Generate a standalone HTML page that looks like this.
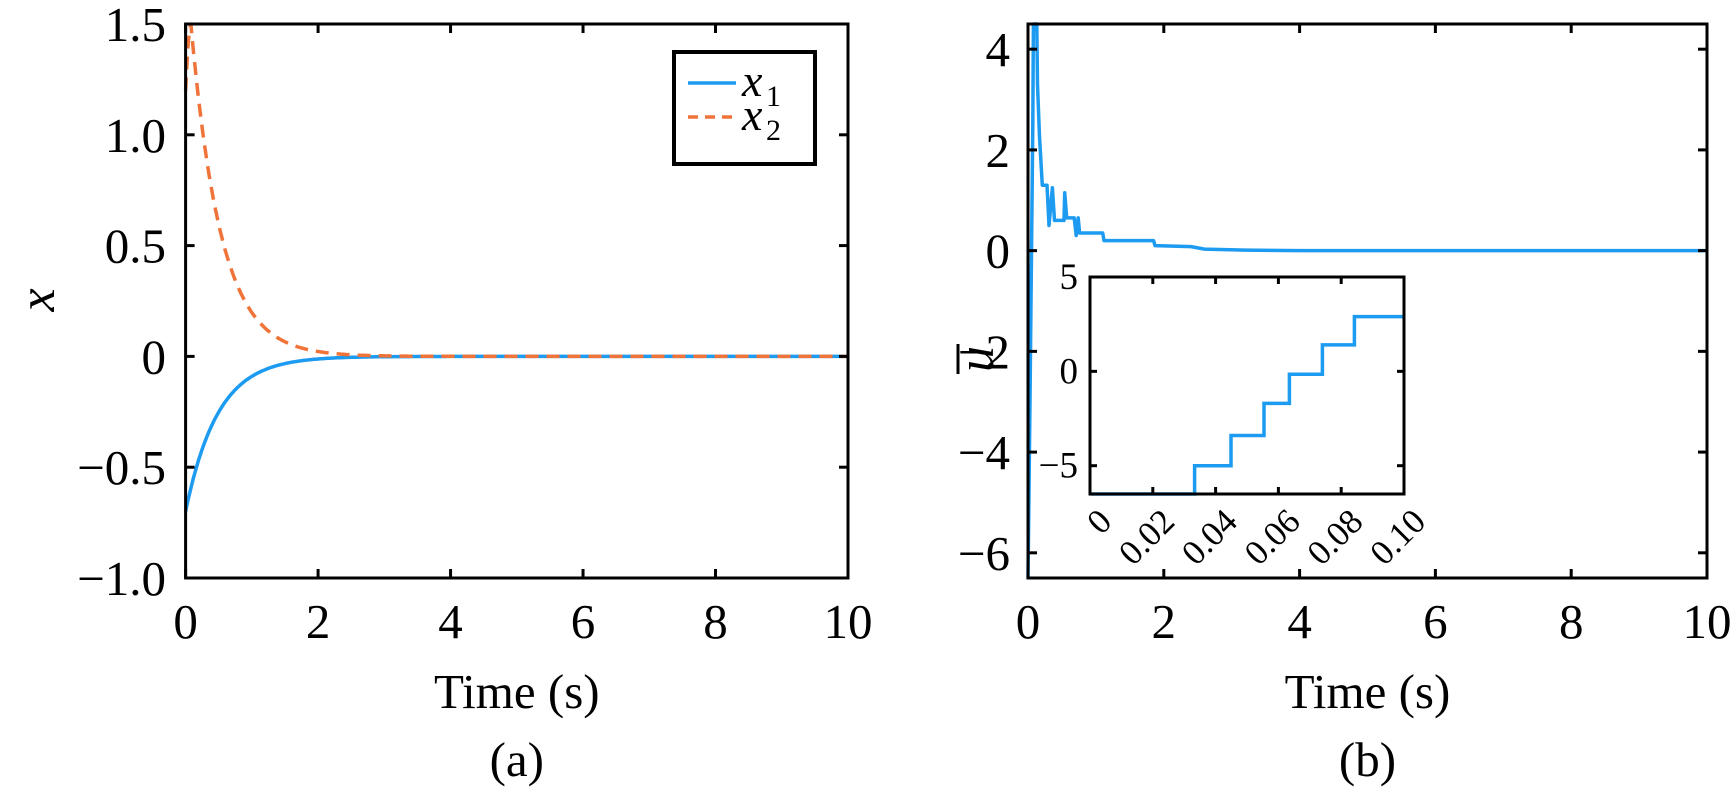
<!DOCTYPE html>
<html><head><meta charset="utf-8"><style>
html,body{margin:0;padding:0;background:#fff;}
svg{display:block;}
text{font-family:"Liberation Serif",serif;fill:#000;}
</style></head><body>
<svg id="s" width="1732" height="792" viewBox="0 0 1732 792" xmlns="http://www.w3.org/2000/svg">
<g id="g"></g>
</svg>
<script>
const NS="http://www.w3.org/2000/svg";
const g=document.getElementById('g');
function el(t,a,txt){const e=document.createElementNS(NS,t);for(const k in a)e.setAttribute(k,a[k]);if(txt!==undefined)e.textContent=txt;g.appendChild(e);return e;}
const BLUE="#1d9bf0",ORANGE="#f0743a";
const L={x0:185.6,x1:848,y0:24,y1:578,xmin:0,xmax:10,ymin:-1,ymax:1.5};
const R={x0:1028,x1:1707,y0:24,y1:578,xmin:0,xmax:10,ymin:-6.5,ymax:4.5};
const I={x0:1090,x1:1404,y0:277,y1:494,xmin:0,xmax:0.1,ymin:-6.5,ymax:5};
function X(P,v){return P.x0+(v-P.xmin)/(P.xmax-P.xmin)*(P.x1-P.x0);}
function Y(P,v){return P.y1-(v-P.ymin)/(P.ymax-P.ymin)*(P.y1-P.y0);}
function path(P,pts,attrs){let d=pts.map((p,i)=>(i?'L':'M')+X(P,p[0]).toFixed(1)+' '+Y(P,p[1]).toFixed(1)).join('');const a=Object.assign({d:d,fill:'none','stroke-width':3.5,'stroke-linejoin':'round'},attrs);return el('path',a);}
let p1=[],p2=[];
for(let t=0;t<=10.0001;t+=0.02){p1.push([t,-0.7*Math.exp(-2.05*t)]);
 let v= t<0.08 ? 1.2+0.3*Math.sin(t/0.08*Math.PI/2) : 1.5*Math.exp(-2.2*(t-0.08));p2.push([t,v]);}
path(L,p1,{stroke:BLUE});
path(L,p2,{stroke:ORANGE,'stroke-dasharray':'13 8'});
let u=[[0,-6.5],[0.03,-3],[0.07,2.5],[0.08,4.5],[0.13,4.5],[0.14,3.3],[0.17,2.26],[0.21,1.3],[0.28,1.3],[0.31,0.5],[0.36,1.25],[0.39,0.6],[0.53,0.6],[0.54,1.15],[0.57,0.65],[0.68,0.65],[0.71,0.3],[0.74,0.65],[0.76,0.35],[1.1,0.35],[1.12,0.2],[1.85,0.2],[1.87,0.1],[2.4,0.08],[2.6,0.03],[3.2,0.01],[4,0],[10,0]];
path(R,u,{stroke:BLUE});
el('rect',{x:I.x0,y:I.y0,width:I.x1-I.x0,height:I.y1-I.y0,fill:'#fff'});
let st=[[0,-6.5],[0.0333,-6.5],[0.0333,-5],[0.0449,-5],[0.0449,-3.4],[0.0554,-3.4],[0.0554,-1.7],[0.0635,-1.7],[0.0635,-0.15],[0.074,-0.15],[0.074,1.4],[0.0842,1.4],[0.0842,2.9],[0.1,2.9]];
path(I,st,{stroke:BLUE,'stroke-linejoin':'miter'});
function box(P,xt,yt,tl,sw){
 el('rect',{x:P.x0,y:P.y0,width:P.x1-P.x0,height:P.y1-P.y0,fill:'none',stroke:'#000','stroke-width':sw});
 xt.forEach(v=>{const x=X(P,v);el('line',{x1:x,x2:x,y1:P.y1,y2:P.y1-tl,stroke:'#000','stroke-width':sw});el('line',{x1:x,x2:x,y1:P.y0,y2:P.y0+tl,stroke:'#000','stroke-width':sw});});
 yt.forEach(v=>{const y=Y(P,v);el('line',{x1:P.x0,x2:P.x0+tl,y1:y,y2:y,stroke:'#000','stroke-width':sw});el('line',{x1:P.x1,x2:P.x1-tl,y1:y,y2:y,stroke:'#000','stroke-width':sw});});
}
box(L,[0,2,4,6,8,10],[-1,-0.5,0,0.5,1,1.5],9,3);
box(R,[0,2,4,6,8,10],[-6,-4,-2,0,2,4],9,3);
box(I,[0,0.02,0.04,0.06,0.08,0.1],[-5,0,5],7,3);
const M="\u2212";
[[1.5,"1.5"],[1,"1.0"],[0.5,"0.5"],[0,"0"],[-0.5,M+"0.5"],[-1,M+"1.0"]].forEach(([v,s])=>el('text',{x:166,y:Y(L,v)+17,'font-size':49,'text-anchor':'end'},s));
[0,2,4,6,8,10].forEach(v=>{el('text',{x:X(L,v),y:638,'font-size':49,'text-anchor':'middle'},String(v));el('text',{x:X(R,v),y:638,'font-size':49,'text-anchor':'middle'},String(v));});
[4,2,0,-2,-4,-6].forEach(v=>el('text',{x:1010,y:Y(R,v)+17,'font-size':49,'text-anchor':'end'},(v<0?M:"")+Math.abs(v)));
[5,0,-5].forEach(v=>el('text',{x:1078,y:Y(I,v)+12,'font-size':37,'text-anchor':'end'},(v<0?M:"")+Math.abs(v)));
["0","0.02","0.04","0.06","0.08","0.10"].forEach((s,i)=>{const x=X(I,i*0.02)+8,y=I.y1+14;el('text',{x:x,y:y,'font-size':35,'text-anchor':'end',transform:`rotate(-45 ${x} ${y}) translate(0 22)`},s);});
el('text',{x:X(L,5),y:708,'font-size':49,'text-anchor':'middle'},"Time (s)");
el('text',{x:X(R,5),y:708,'font-size':49,'text-anchor':'middle'},"Time (s)");
el('text',{x:X(L,5),y:776,'font-size':49,'text-anchor':'middle'},"(a)");
el('text',{x:X(R,5),y:776,'font-size':49,'text-anchor':'middle'},"(b)");
el('text',{x:54,y:300,'font-size':52,'font-style':'italic','text-anchor':'middle',transform:'rotate(-90 54 300)'},"x");
el('text',{x:993,y:359,'font-size':52,'font-style':'italic','text-anchor':'middle',transform:'rotate(-90 993 359)'},"u");
el('line',{x1:958,x2:958,y1:344,y2:374,stroke:'#000','stroke-width':3});
el('rect',{x:674,y:52,width:141,height:112,fill:'#fff',stroke:'#000','stroke-width':4});
el('line',{x1:688,x2:736,y1:83,y2:83,stroke:BLUE,'stroke-width':3.5});
el('line',{x1:688,x2:736,y1:117,y2:117,stroke:ORANGE,'stroke-width':3.5,'stroke-dasharray':'10 7'});
el('text',{x:742,y:96,'font-size':46,'font-style':'italic'},"x");
el('text',{x:766,y:106,'font-size':30},"1");
el('text',{x:742,y:130,'font-size':46,'font-style':'italic'},"x");
el('text',{x:766,y:140,'font-size':30},"2");
</script>
</body></html>
